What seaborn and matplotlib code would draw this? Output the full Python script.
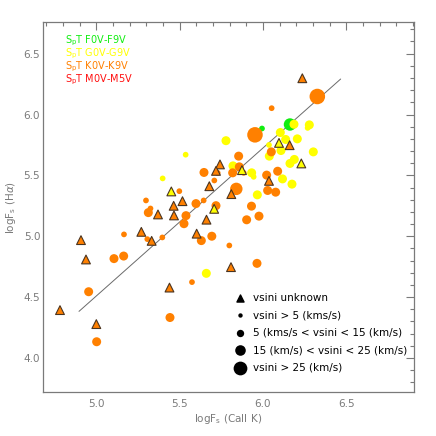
import numpy as np
import pandas as pd
import seaborn as sns
import matplotlib
matplotlib.use("Agg")
import matplotlib.pyplot as plt
from matplotlib.ticker import MultipleLocator

# --- data ---
# circles: log F_s(CaII K), log F_s(Halpha), spectral type, vsini class (1..4)
f_x = [5.994, 6.162]
f_y = [5.885, 5.918]
f_v = [1, 3]

g_x = [5.536, 5.398, 6.186, 6.278, 6.268, 5.778, 6.104, 6.136, 6.206, 6.036, 6.108,
       6.038, 6.302, 6.188, 6.162, 5.820, 5.932, 5.944, 6.117, 6.174, 5.966, 5.660]
g_y = [5.670, 5.475, 5.920, 5.915, 5.890, 5.785, 5.852, 5.795, 5.800, 5.750, 5.704,
       5.658, 5.693, 5.631, 5.598, 5.578, 5.521, 5.488, 5.471, 5.428, 5.340, 4.695]
g_v = [1, 1, 2, 2, 1, 2, 2, 2, 2, 1, 2,
       2, 2, 2, 2, 2, 2, 1, 2, 2, 2, 2]

k_x = [6.052, 6.326, 5.952, 6.050, 5.854, 5.858, 5.818, 5.884, 5.646, 5.728, 5.708,
       6.022, 6.088, 5.840, 6.028, 6.076, 5.931, 5.976, 5.902, 5.498, 5.298, 5.325,
       5.312, 5.598, 5.644, 5.718, 5.538, 5.526, 5.396, 5.306, 5.630, 5.693, 5.798,
       5.964, 5.574, 5.442, 5.166, 5.106, 5.164, 4.954, 5.002]
k_y = [6.052, 6.148, 5.833, 5.693, 5.658, 5.570, 5.521, 5.521, 5.524, 5.521, 5.458,
       5.502, 5.534, 5.389, 5.376, 5.362, 5.247, 5.165, 5.135, 5.370, 5.294, 5.228,
       5.194, 5.268, 5.294, 5.251, 5.169, 5.103, 4.990, 4.976, 4.964, 5.000, 4.924,
       4.777, 4.623, 4.332, 5.015, 4.816, 4.837, 4.544, 4.133]
k_v = [1, 4, 4, 2, 2, 2, 2, 1, 2, 1, 1,
       2, 2, 3, 2, 2, 2, 2, 2, 1, 1, 1,
       2, 2, 1, 2, 2, 2, 1, 1, 2, 2, 1,
       2, 1, 2, 1, 2, 2, 2, 2]

# triangles: vsini unknown
tri_k_x = [6.236, 6.160, 5.742, 5.718, 5.678, 5.810, 6.036, 5.661, 5.602, 5.808, 4.782,
           4.908, 4.938, 5.000, 5.270, 5.332, 5.370, 5.466, 5.464, 5.517, 5.439]
tri_k_y = [6.298, 5.748, 5.590, 5.537, 5.411, 5.346, 5.455, 5.136, 5.021, 4.746, 4.393,
           4.968, 4.809, 4.278, 5.036, 4.962, 5.179, 5.171, 5.250, 5.288, 4.578]
tri_g_x = [5.450, 5.707, 6.096, 6.230, 5.874]
tri_g_y = [5.368, 5.225, 5.767, 5.598, 5.543]

# linear relation drawn in the figure
fit_slope = 1.216
fit_intercept = -1.571
fit_x = [4.896, 6.466]

spt_labels = ["F0V-F9V", "G0V-G9V", "K0V-K9V", "M0V-M5V"]
spt_colors = {"F": "#10ee10", "G": "#ffff00", "K": "#ff8000", "M": "#ff1010"}
vsini_labels = ["vsini unknown", "vsini > 5 (kms/s)", "5 (kms/s < vsini < 15 (km/s)",
                "15 (km/s) < vsini < 25 (km/s)", "vsini > 25 (km/s)"]

circles = pd.concat([
    pd.DataFrame({"x": f_x, "y": f_y, "spt": "F", "vsini": f_v}),
    pd.DataFrame({"x": g_x, "y": g_y, "spt": "G", "vsini": g_v}),
    pd.DataFrame({"x": k_x, "y": k_y, "spt": "K", "vsini": k_v}),
], ignore_index=True)
tris = pd.concat([
    pd.DataFrame({"x": tri_k_x, "y": tri_k_y, "spt": "K"}),
    pd.DataFrame({"x": tri_g_x, "y": tri_g_y, "spt": "G"}),
], ignore_index=True)
line = pd.DataFrame({"x": fit_x})
line["y"] = fit_slope * line["x"] + fit_intercept

sns.set_style("white")
plt.rcParams["font.family"] = ["DejaVu Sans"]
grey = "#7a7a7a"
size_map = {1: 17, 2: 42, 3: 80, 4: 125}

fig = plt.figure(figsize=(4.36, 4.36), dpi=100)
ax = fig.add_axes([0.0986, 0.1009, 0.8509, 0.8486])

sns.lineplot(data=line, x="x", y="y", color="#6a6a6a", lw=0.7, ax=ax)
sns.scatterplot(data=circles, x="x", y="y", hue="spt", palette=spt_colors,
                size="vsini", sizes=size_map, edgecolor="none", linewidth=0,
                legend=False, ax=ax, zorder=3)
sns.scatterplot(data=tris, x="x", y="y", hue="spt", palette=spt_colors, marker="^",
                s=40, edgecolor="#4a3420", linewidth=0.8, legend=False, ax=ax, zorder=4)

ax.set_xlim(4.68, 6.906)
ax.set_ylim(3.72, 6.76)
ax.set_xticks([5.0, 5.5, 6.0, 6.5])
ax.set_yticks([4.0, 4.5, 5.0, 5.5, 6.0, 6.5])
ax.xaxis.set_minor_locator(MultipleLocator(0.1))
ax.yaxis.set_minor_locator(MultipleLocator(0.1))
ax.tick_params(which="both", direction="in", top=True, right=True, color=grey,
               labelcolor=grey, labelsize=7.5, width=0.8)
ax.tick_params(which="major", length=6)
ax.tick_params(which="minor", length=3)
ax.tick_params(axis="x", pad=5)
ax.tick_params(axis="y", pad=2)
for sp in ax.spines.values():
    sp.set_color(grey)
    sp.set_linewidth(0.9)

ax.set_xlabel(r"logF$_\mathrm{s}$ (CaII K)", color=grey, fontsize=7.5, labelpad=2)
ax.set_ylabel(r"logF$_\mathrm{s}$ (H$\alpha$)", color=grey, fontsize=7.5, labelpad=4)

# spectral type key (top left)
for i, (lab, key) in enumerate(zip(spt_labels, spt_colors)):
    ax.text(0.059, 0.950 - 0.035 * i, r"S$_\mathrm{p}$T " + lab, transform=ax.transAxes,
            color=spt_colors[key], fontsize=7, va="center", ha="left")

# vsini key (bottom right)
key_sizes = [None, 10, 28, 58, 98]
for i, lab in enumerate(vsini_labels):
    yy = 0.254 - 0.047 * i
    if i == 0:
        ax.scatter([0.531], [yy], marker="^", s=26, color="black", transform=ax.transAxes)
    else:
        ax.scatter([0.531], [yy], marker="o", s=key_sizes[i], color="black",
                   transform=ax.transAxes, linewidths=0)
    ax.text(0.566, yy, lab, transform=ax.transAxes, fontsize=7.5, color="black",
            va="center", ha="left")

fig.savefig("out.png", dpi=100)
